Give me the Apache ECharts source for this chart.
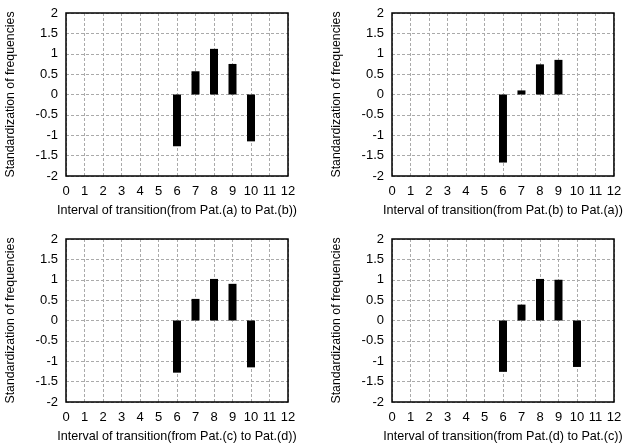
<!DOCTYPE html>
<html>
<head>
<meta charset="utf-8">
<script src="https://cdn.jsdelivr.net/npm/echarts@6/dist/echarts.min.js"></script>
<style>html,body{margin:0;padding:0;background:#fff}#c{width:625px;height:446px}</style>
</head>
<body>
<div id="c"></div>
<script>
var intervals = [6, 7, 8, 9, 10];
var valuesAB = [-1.27, 0.57, 1.12, 0.75, -1.15];
var valuesBA = [-1.67, 0.10, 0.74, 0.85, null];
var valuesCD = [-1.28, 0.53, 1.02, 0.90, -1.15];
var valuesDC = [-1.26, 0.39, 1.02, 1.00, -1.14];
var xTitles = [
  'Interval of transition(from Pat.(a) to Pat.(b))',
  'Interval of transition(from Pat.(b) to Pat.(a))',
  'Interval of transition(from Pat.(c) to Pat.(d))',
  'Interval of transition(from Pat.(d) to Pat.(c))'
];
var yTitle = 'Standardization of frequencies';
var panels = [valuesAB, valuesBA, valuesCD, valuesDC];

var font = 'Liberation Sans, Arial, sans-serif';
var boxes = [
  {left: 66, top: 13},
  {left: 392, top: 13},
  {left: 66, top: 239},
  {left: 392, top: 239}
];
var grids = [], xAxes = [], yAxes = [], series = [];
panels.forEach(function (vals, i) {
  grids.push({left: boxes[i].left, top: boxes[i].top, width: 222, height: 163,
    show: true, borderColor: '#000', borderWidth: 1.5, backgroundColor: 'transparent', z: 3});
  xAxes.push({
    type: 'value', gridIndex: i, min: 0, max: 12, interval: 1,
    name: xTitles[i], nameLocation: 'middle', nameGap: 28,
    nameTextStyle: {fontFamily: font, fontSize: 12.6, color: '#000'},
    axisLine: {show: false}, axisTick: {show: false},
    axisLabel: {fontFamily: font, fontSize: 13, color: '#000', margin: 9},
    splitLine: {show: true, lineStyle: {color: '#aaa', type: [3, 2], width: 1}}
  });
  yAxes.push({
    type: 'value', gridIndex: i, min: -2, max: 2, interval: 0.5,
    name: yTitle, nameLocation: 'middle', nameGap: 49,
    nameTextStyle: {fontFamily: font, fontSize: 12.3, color: '#000'},
    axisLine: {show: false}, axisTick: {show: false},
    axisLabel: {fontFamily: font, fontSize: 13, color: '#000', margin: 8},
    splitLine: {show: true, lineStyle: {color: '#aaa', type: [3, 2], width: 1}}
  });
  var data = [];
  intervals.forEach(function (x, k) {
    if (vals[k] !== null) data.push([x, vals[k]]);
  });
  series.push({
    type: 'bar', xAxisIndex: i, yAxisIndex: i, data: data,
    barWidth: 8, itemStyle: {color: '#000'}, silent: true, animation: false
  });
});

var chart = echarts.init(document.getElementById('c'), null, {renderer: 'canvas'});
chart.setOption({
  animation: false,
  backgroundColor: '#fff',
  grid: grids, xAxis: xAxes, yAxis: yAxes, series: series
});
</script>
</body>
</html>
